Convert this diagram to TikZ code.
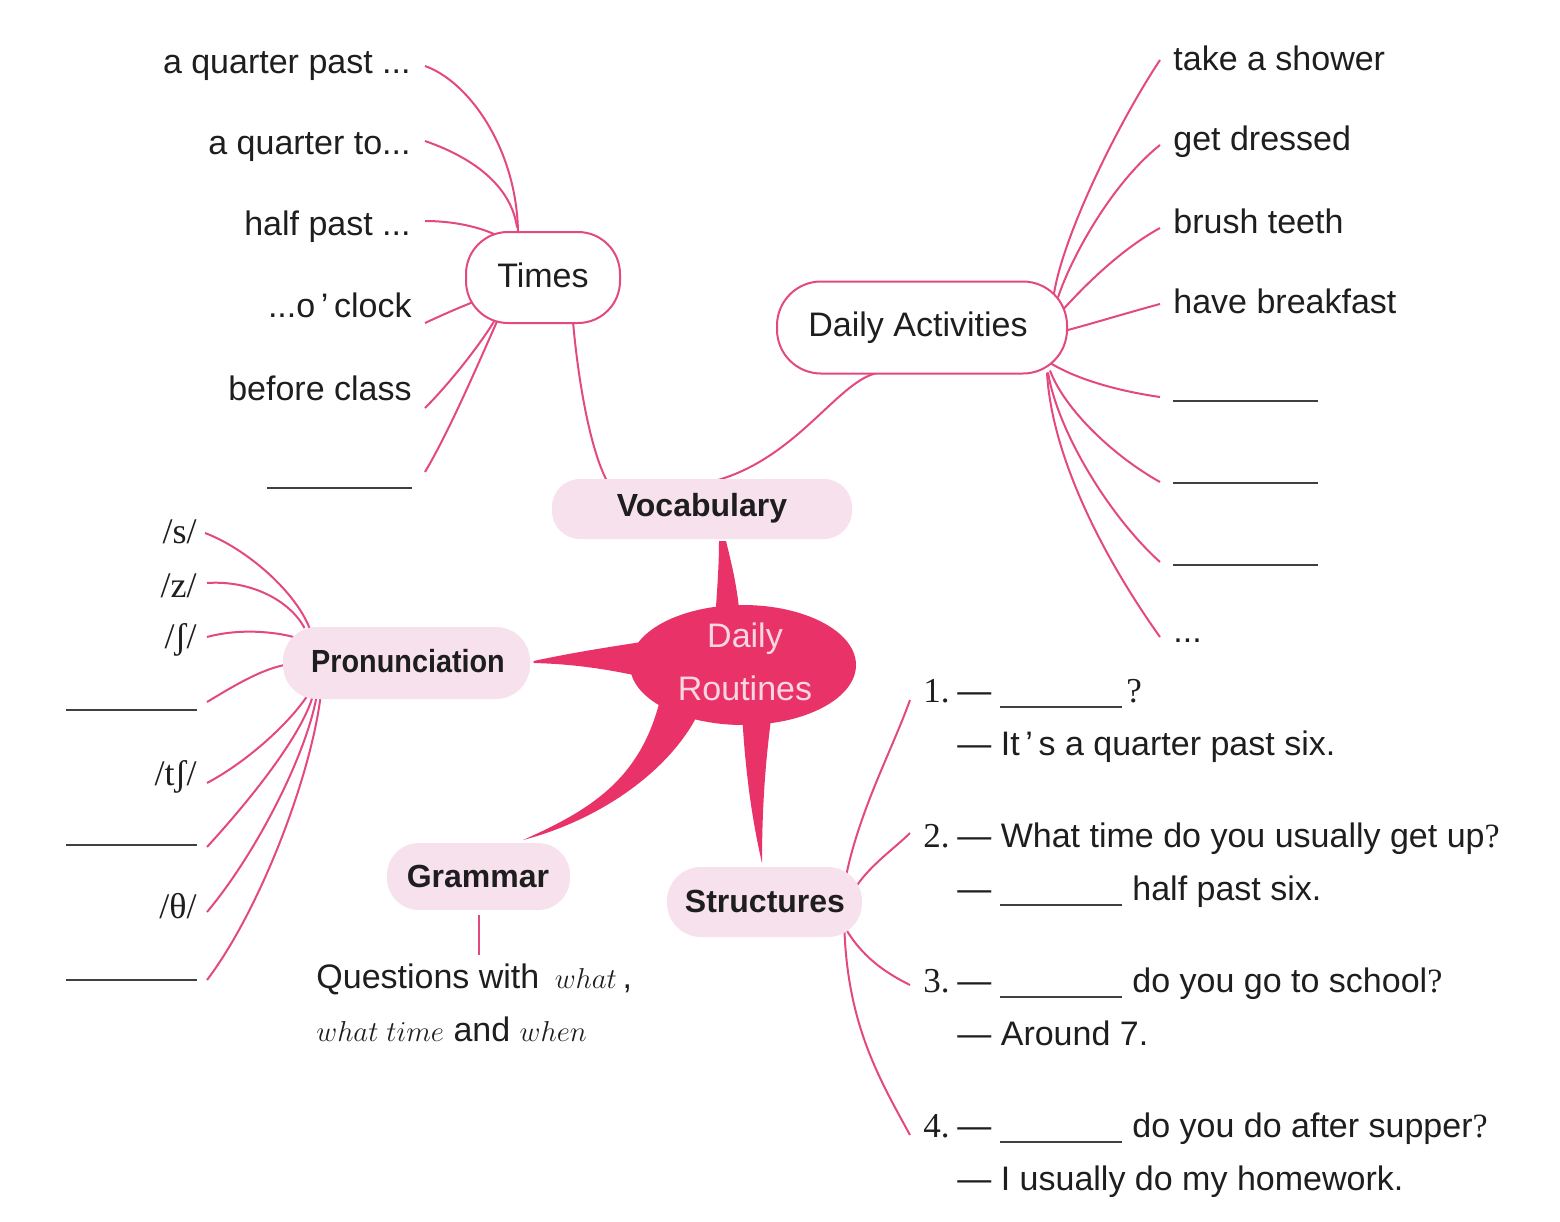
\documentclass[tikz,border=0pt]{standalone}
\usepackage{fontspec}
\usepackage{graphicx}
\setmainfont{Liberation Sans}
\newfontfamily\seriff{Liberation Serif}
\usetikzlibrary{shapes.geometric}
\pgfdeclarelayer{background}
\pgfsetlayers{background,main}
\definecolor{lnpink}{RGB}{228,72,128}
\definecolor{hotpink}{RGB}{233,50,104}
\definecolor{boxpink}{RGB}{247,225,237}
\definecolor{ink}{RGB}{30,30,30}
\definecolor{ltext}{RGB}{250,214,226}
\newcommand{\wit}[1]{{\fontsize{15.5}{18}\selectfont$#1$}}
\begin{document}
\begin{tikzpicture}[x=0.5pt,y=-0.5pt,
  conn/.style={draw=lnpink,line width=1pt},
  blankln/.style={draw=ink!85,line width=0.75pt},
  ringbox/.style={draw=lnpink,line width=1pt,fill=white,inner sep=0pt},
  softbox/.style={fill=boxpink,inner sep=0pt},
  txt/.style={font=\fontsize{17}{20}\selectfont,text=ink,inner sep=0pt},
  cat/.style={font=\fontsize{16}{20}\selectfont\bfseries,text=ink,inner sep=0pt},
  ipa/.style={font=\fontsize{18}{20}\selectfont\seriff,text=ink,inner sep=0pt},
  num/.style={font=\fontsize{17.5}{20}\selectfont\seriff,text=ink,inner sep=0pt},
  spike/.style={fill=hotpink}
]
\useasboundingbox (0,0) rectangle (1560,1222);

% ---------- main boxes ----------
\node[ringbox,minimum width=77pt,minimum height=45.5pt,rounded corners=21pt] (times) at (543,277.5) {};
\node[txt,anchor=base] (timest) at (543,287) {Times};
\node[ringbox,minimum width=145pt,minimum height=46pt,rounded corners=22pt] (da) at (922,327.5) {};
\node[txt,anchor=base] (dat) at (918,336) {Daily Activities};

\node[softbox,minimum width=150pt,minimum height=30pt,rounded corners=14pt] (voc) at (702,509) {};
\node[cat,anchor=base] (voct) at (702,516) {Vocabulary};
\node[softbox,minimum width=123.5pt,minimum height=36pt,rounded corners=17pt] (pron) at (406.5,663) {};
\node[cat,anchor=base] (pront) at (408,672) {\scalebox{0.9}[1]{Pronunciation}};
\node[softbox,minimum width=91.5pt,minimum height=33.5pt,rounded corners=16pt] (gram) at (478.5,876.5) {};
\node[cat,anchor=base] (gramt) at (478,887) {Grammar};
\node[softbox,minimum width=97.5pt,minimum height=35pt,rounded corners=17pt] (st) at (764.5,902) {};
\node[cat,anchor=base] (stt) at (765,912) {Structures};

\node[ellipse,fill=hotpink,minimum width=113pt,minimum height=60pt,inner sep=0pt] (dr) at (743,665) {};
\node[txt,text=ltext,anchor=base] (drt1) at (745,647) {Daily};
\node[txt,text=ltext,anchor=base] (drt2) at (745,700) {Routines};

% ---------- Times items ----------
\node[txt,anchor=base east] (qp) at (411,73) {a quarter past ...};
\node[txt,anchor=base east] (qt) at (411,154) {a quarter to...};
\node[txt,anchor=base east] (hp) at (411,235) {half past ...};
\node[txt,anchor=base east] (oc) at (412,317) {...o\,’\,clock};
\node[txt,anchor=base east] (bc) at (412,400) {before class};
\coordinate (tb) at (412,488);
\draw[blankln] (267,488) -- (tb);

% ---------- Daily activities items ----------
\node[txt,anchor=base west] (ts) at (1173,70) {take a shower};
\node[txt,anchor=base west] (gd) at (1173,150) {get dressed};
\node[txt,anchor=base west] (bt) at (1173,233) {brush teeth};
\node[txt,anchor=base west] (hb) at (1173,313) {have breakfast};
\coordinate (d1) at (1173,401);
\coordinate (d2) at (1173,483);
\coordinate (d3) at (1173,565);
\draw[blankln] (d1) -- (1318,401);
\draw[blankln] (d2) -- (1318,483);
\draw[blankln] (d3) -- (1318,565);
\node[txt,anchor=base west] (dd) at (1173,642) {...};

% ---------- Pronunciation items ----------
\node[ipa,anchor=base east] (ps) at (197,543) {/s/};
\node[ipa,anchor=base east] (pz) at (197,597) {/z/};
\node[ipa,anchor=base east] (psh) at (197,648) {/ʃ/};
\node[ipa,anchor=base east] (ptsh) at (197,785) {/tʃ/};
\node[ipa,anchor=base east] (pth) at (197,918) {/θ/};
\coordinate (pb1) at (197,710);
\coordinate (pb2) at (197,845);
\coordinate (pb3) at (197,980);
\draw[blankln] (66,710) -- (pb1);
\draw[blankln] (66,845) -- (pb2);
\draw[blankln] (66,980) -- (pb3);

% ---------- Grammar ----------
\node[txt,anchor=base west] (gt1) at (316,988) {Questions with\hspace{3pt} \wit{what}\,,};
\node[txt,anchor=base west] (gt2) at (316,1041) {\wit{what}\hspace{4pt}\wit{time} and \wit{when}};
\coordinate (gq) at (479,955);

% ---------- Structures ----------
\node[num,anchor=base west] (s1) at (923,702) {1.};
\node[txt,anchor=base west] (s1d) at (957,702) {—};
\draw[blankln] (1000,707) -- (1122,707);
\node[num,anchor=base west] (s1q) at (1126,702) {?};
\node[txt,anchor=base west] (s1a) at (957,755) {— It\,’\,s a quarter past six.};

\node[num,anchor=base west] (s2) at (923,847) {2.};
\node[txt,anchor=base west] (s2q) at (957,847) {— What time do you usually get up{\seriff ?}};
\node[txt,anchor=base west] (s2d) at (957,900) {—};
\draw[blankln] (1000,905) -- (1122,905);
\node[txt,anchor=base west] (s2a) at (1132,900) {half past six.};

\node[num,anchor=base west] (s3) at (923,992) {3.};
\node[txt,anchor=base west] (s3d) at (957,992) {—};
\draw[blankln] (1000,997) -- (1122,997);
\node[txt,anchor=base west] (s3q) at (1132,992) {do you go to school{\seriff ?}};
\node[txt,anchor=base west] (s3a) at (957,1045) {— Around 7.};

\node[num,anchor=base west] (s4) at (923,1137) {4.};
\node[txt,anchor=base west] (s4d) at (957,1137) {—};
\draw[blankln] (1000,1142) -- (1122,1142);
\node[txt,anchor=base west] (s4q) at (1132,1137) {do you do after supper{\seriff ?}};
\node[txt,anchor=base west] (s4a) at (957,1190) {— I usually do my homework.};

\begin{pgfonlayer}{background}
% spikes from the centre
\fill[spike] ([shift={(-28,-45)}]dr.center) .. controls +(3,-40) and +(0,19) .. ([shift={(17,32)}]voc.center) -- ([shift={(24,32)}]voc.center) .. controls +(6,24) and +(-2,-30) .. ([shift={(-3,-45)}]dr.center) -- cycle;
\fill[spike] ([shift={(127,-2)}]pron.center) .. controls +(42,-9) and +(-40,6) .. ([shift={(-88,-25)}]dr.center) -- ([shift={(-88,15)}]dr.center) .. controls +(-40,-10) and +(42,1) .. ([shift={(127,0)}]pron.center) -- cycle;
\fill[spike] ([shift={(-83,35)}]dr.center) .. controls +(-20,80) and +(67,-30) .. ([shift={(44.5,-36.5)}]gram.center) .. controls +(77,-20) and +(-28,60) .. ([shift={(-43,45)}]dr.center) -- cycle;
\fill[spike] ([shift={(-1,47)}]dr.center) .. controls +(3,58) and +(-10,-43) .. ([shift={(-2.5,-39)}]st.center) .. controls +(0,-43) and +(-8,58) .. ([shift={(29,47)}]dr.center) -- cycle;

% Times connectors
\draw[conn] ([shift={(14,-7)}]qp.base east) .. controls +(45,16) and +(-1,-82) .. ([shift={(-25,-45)}]times.center);
\draw[conn] ([shift={(14,-13)}]qt.base east) .. controls +(55,19) and +(-5,-37) .. ([shift={(-26,-50)}]times.center);
\draw[conn] ([shift={(14,-14)}]hp.base east) .. controls +(30,0) and +(-15,-7) .. ([shift={(-48,-43)}]times.center);
\draw[conn] ([shift={(13,6)}]oc.base east) .. controls +(15,-7) and +(-15,6) .. ([shift={(-71,25)}]times.center);
\draw[conn] ([shift={(13,8)}]bc.base east) .. controls +(25,-25) and +(-14,23) .. ([shift={(-49,44)}]times.center);
\draw[conn] ([shift={(13,-16)}]tb) .. controls +(25,-42) and +(-17,38) .. ([shift={(-46,44)}]times.center);
\draw[conn] ([shift={(30,44)}]times.center) .. controls +(5,58) and +(-17,-32) .. ([shift={(-95,-28)}]voc.center);

% Daily activities connectors
\draw[conn] ([shift={(16,-29)}]voc.center) .. controls +(82,-24) and +(-40,5) .. ([shift={(-42,45)}]da.center);
\draw[conn] ([shift={(-13,-10)}]ts.base west) .. controls +(-40,60) and +(10,-61) .. ([shift={(132,-34)}]da.center);
\draw[conn] ([shift={(-13,-5)}]gd.base west) .. controls +(-50,40) and +(12,-37) .. ([shift={(136,-30)}]da.center);
\draw[conn] ([shift={(-13,-5)}]bt.base west) .. controls +(-40,22) and +(20,-22) .. ([shift={(142,-19)}]da.center);
\draw[conn] ([shift={(-13,-9)}]hb.base west) .. controls +(-30,8) and +(30,-8) .. ([shift={(144,3)}]da.center);
\draw[conn] ([shift={(129,36)}]da.center) .. controls +(30,18) and +(-35,-5) .. ([shift={(-13,-4)}]d1);
\draw[conn] ([shift={(128,43)}]da.center) .. controls +(15,40) and +(-45,-25) .. ([shift={(-13,-1)}]d2);
\draw[conn] ([shift={(126,45)}]da.center) .. controls +(10,60) and +(-50,-45) .. ([shift={(-13,-3)}]d3);
\draw[conn] ([shift={(125,45)}]da.center) .. controls +(5,90) and +(-50,-70) .. ([shift={(-13,-5)}]dd.base west);

% Pronunciation connectors
\draw[conn] ([shift={(8,-10)}]ps.base east) .. controls +(40,15) and +(-15,-38) .. ([shift={(-97,-35)}]pron.center);
\draw[conn] ([shift={(10,-14)}]pz.base east) .. controls +(43,-3) and +(-15,-28) .. ([shift={(-102,-35)}]pron.center);
\draw[conn] ([shift={(10,-11)}]psh.base east) .. controls +(33,-9) and +(-18,-5) .. ([shift={(-113,-26)}]pron.center);
\draw[conn] ([shift={(10,-8)}]pb1) .. controls +(25,-15) and +(-25,5) .. ([shift={(-122,2)}]pron.center);
\draw[conn] ([shift={(10,-2)}]ptsh.base east) .. controls +(43,-23) and +(-17,25) .. ([shift={(-100,34)}]pron.center);
\draw[conn] ([shift={(10,2)}]pb2) .. controls +(43,-47) and +(-12,40) .. ([shift={(-94,34)}]pron.center);
\draw[conn] ([shift={(10,-6)}]pth.base east) .. controls +(48,-57) and +(-11,60) .. ([shift={(-90,34)}]pron.center);
\draw[conn] ([shift={(10,0)}]pb3) .. controls +(53,-70) and +(-10,80) .. ([shift={(-86,34)}]pron.center);

% Grammar connector
\draw[conn] ([shift={(0.5,38.5)}]gram.center) -- (gq);

% Structures connectors
\draw[conn] ([shift={(82,-28)}]st.center) .. controls +(14,-66) and +(-18,50) .. ([shift={(-13,-2)}]s1.base west);
\draw[conn] ([shift={(92,-16)}]st.center) .. controls +(15,-22) and +(-15,15) .. ([shift={(-13,-14)}]s2.base west);
\draw[conn] ([shift={(82,28)}]st.center) .. controls +(18,30) and +(-20,-10) .. ([shift={(-13,-7)}]s3.base west);
\draw[conn] ([shift={(80,30)}]st.center) .. controls +(4,95) and +(-30,-55) .. ([shift={(-13,-2)}]s4.base west);
\end{pgfonlayer}
\end{tikzpicture}
\end{document}
